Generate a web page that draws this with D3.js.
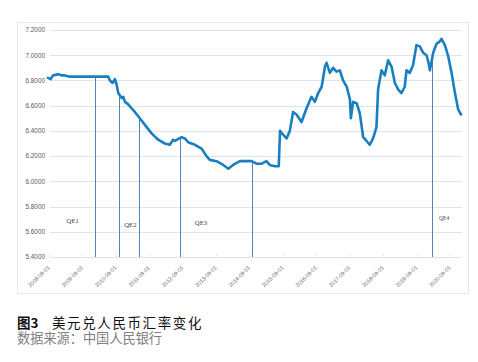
<!DOCTYPE html>
<html>
<head>
<meta charset="utf-8">
<script src="https://cdn.jsdelivr.net/npm/d3@7"></script>
<style>
  body { margin: 0; background: #fff; }
  svg { display: block; }
</style>
</head>
<body>
<svg id="chart" width="478" height="362"></svg>
<script>
// USD/CNY, values
const dates = [
  "2008-09-22","2008-10-21","2008-11-16","2009-01-13","2009-02-22","2009-03-25","2009-05-19","2009-08-19",
  "2010-02-18","2010-07-13","2010-08-01","2010-08-30","2010-09-24","2010-10-12","2010-10-31","2010-12-07",
  "2010-12-25","2011-01-12","2011-02-17","2011-03-24","2011-04-30","2011-06-23","2011-08-16","2011-10-30",
  "2012-01-10","2012-03-22","2012-05-16","2012-06-22","2012-07-10","2012-09-22","2012-10-28","2012-12-03",
  "2013-02-15","2013-04-28","2013-06-21","2013-07-28","2013-10-09","2013-12-21","2014-02-15","2014-04-08",
  "2014-06-21","2014-09-03","2014-10-28","2014-12-20","2015-02-14","2015-04-08","2015-05-13","2015-07-07",
  "2015-08-20","2015-09-03","2015-10-06","2015-11-13","2015-12-19","2016-01-24","2016-03-01","2016-04-25",
  "2016-06-19","2016-08-12","2016-09-18","2016-10-24","2016-12-01","2017-01-06","2017-01-24","2017-03-01",
  "2017-04-06","2017-05-12","2017-06-18","2017-07-23","2017-09-01","2017-10-06","2017-10-16","2017-11-10",
  "2017-12-18","2018-01-22","2018-02-28","2018-04-05","2018-05-10","2018-06-16","2018-07-23","2018-08-10",
  "2018-09-16","2018-10-22","2018-11-28","2019-01-04","2019-02-09","2019-03-16","2019-04-22","2019-05-28",
  "2019-06-16","2019-07-21","2019-08-27","2019-10-03","2019-11-09","2019-12-15","2020-01-21","2020-02-09",
  "2020-02-27","2020-04-03","2020-05-09","2020-06-15","2020-07-03","2020-08-09","2020-09-15","2020-10-21",
  "2020-11-27","2021-01-01","2021-02-01"
];
const rates = [
  6.82, 6.81, 6.84, 6.85, 6.84, 6.84, 6.83, 6.83,
  6.83, 6.83, 6.80, 6.78, 6.81, 6.77, 6.70, 6.66,
  6.67, 6.63, 6.61, 6.58, 6.55, 6.50, 6.45, 6.38,
  6.33, 6.30, 6.29, 6.33, 6.32, 6.35, 6.34, 6.31,
  6.29, 6.26, 6.20, 6.17, 6.16, 6.13, 6.10, 6.13,
  6.16, 6.16, 6.16, 6.14, 6.14, 6.16, 6.13, 6.12,
  6.12, 6.40, 6.37, 6.34, 6.40, 6.55, 6.53, 6.47,
  6.58, 6.67, 6.63, 6.70, 6.75, 6.91, 6.94, 6.86,
  6.90, 6.87, 6.88, 6.80, 6.75, 6.65, 6.50, 6.63,
  6.62, 6.54, 6.35, 6.32, 6.29, 6.34, 6.43, 6.73,
  6.88, 6.84, 6.96, 6.91, 6.78, 6.73, 6.70, 6.75,
  6.88, 6.86, 6.92, 7.08, 7.07, 7.02, 7.00, 6.95,
  6.88, 7.02, 7.09, 7.11, 7.13, 7.08, 6.99, 6.86,
  6.70, 6.57, 6.53
];

// QE policy markers
const qeDates = ["2010-02-24","2010-11-10","2011-06-15","2012-09-04","2014-11-03","2020-03-26"];
const qeLabels = [
  {text: "QE1", date: "2009-06-20", value: 5.67},
  {text: "QE2", date: "2011-03-13", value: 5.64},
  {text: "QE3", date: "2013-04-22", value: 5.65},
  {text: "QE4", date: "2020-08-01", value: 5.69}
];

const yTicks = [5.4, 5.6, 5.8, 6.0, 6.2, 6.4, 6.6, 6.8, 7.0, 7.2];
const xTickLabels = d3.range(2008, 2021).map(y => y + "-09-01");

const parse = d3.timeParse("%Y-%m-%d");
const series = dates.map((d, i) => ({date: parse(d), value: rates[i]}));

const svg = d3.select("#chart");

const x = d3.scaleTime()
  .domain([parse("2008-09-01"), parse("2020-09-01")])
  .range([46, 447]);
const y = d3.scaleLinear().domain([5.4, 7.2]).range([257, 30]);

const plotLeft = 50, plotRight = 462;

// outer frame
svg.append("rect")
  .attr("x", 17.5).attr("y", 22.5)
  .attr("width", 451).attr("height", 271)
  .attr("fill", "#fff")
  .attr("stroke", "#e3e8ee");

// gridlines
svg.append("g")
  .selectAll("line")
  .data(yTicks)
  .join("line")
  .attr("x1", plotLeft).attr("x2", plotRight)
  .attr("y1", d => Math.round(y(d)) + 0.5)
  .attr("y2", d => Math.round(y(d)) + 0.5)
  .attr("stroke", "#dbe5ef")
  .attr("stroke-width", 1);

// y labels
svg.append("g")
  .selectAll("text")
  .data(yTicks)
  .join("text")
  .attr("x", 45)
  .attr("y", d => y(d) + 2.3)
  .attr("text-anchor", "end")
  .attr("font-family", "Liberation Sans, Arial, sans-serif")
  .attr("font-size", 6.4)
  .attr("fill", "#595959")
  .text(d => d.toFixed(4));

// small ticks on bottom gridline
svg.append("g")
  .selectAll("line")
  .data(xTickLabels)
  .join("line")
  .attr("x1", d => Math.round(x(parse(d)) + 3) + 0.5)
  .attr("x2", d => Math.round(x(parse(d)) + 3) + 0.5)
  .attr("y1", 254).attr("y2", 257)
  .attr("stroke", "#e3e9f0");

// x labels
svg.append("g")
  .selectAll("text")
  .data(xTickLabels)
  .join("text")
  .attr("transform", d => `translate(${x(parse(d)) + 4},268) rotate(-45)`)
  .attr("text-anchor", "end")
  .attr("font-family", "Liberation Sans, Arial, sans-serif")
  .attr("font-size", 5.4)
  .attr("fill", "#595959")
  .text(d => d);

// value of the series at a date (linear between read points)
const bis = d3.bisector(d => d.date).left;
function valueAt(dt) {
  const i = bis(series, dt);
  if (i <= 0) return series[0].value;
  if (i >= series.length) return series[series.length - 1].value;
  const a = series[i - 1], b = series[i];
  const t = (dt - a.date) / (b.date - a.date);
  return a.value + t * (b.value - a.value);
}

// QE vertical lines
svg.append("g")
  .selectAll("line")
  .data(qeDates)
  .join("line")
  .attr("x1", d => Math.round(x(parse(d))) + 0.5)
  .attr("x2", d => Math.round(x(parse(d))) + 0.5)
  .attr("y1", d => y(valueAt(parse(d))))
  .attr("y2", y(5.4))
  .attr("stroke", "#4f84b4")
  .attr("stroke-width", 1);

// rate line
const line = d3.line()
  .x(d => x(d.date))
  .y(d => y(d.value));

svg.append("path")
  .datum(series)
  .attr("d", line)
  .attr("fill", "none")
  .attr("stroke", "#1a7fc0")
  .attr("stroke-width", 2.6)
  .attr("stroke-linejoin", "round")
  .attr("stroke-linecap", "round");

// QE labels
svg.append("g")
  .selectAll("text")
  .data(qeLabels)
  .join("text")
  .attr("x", d => x(parse(d.date)))
  .attr("y", d => y(d.value))
  .attr("text-anchor", "middle")
  .attr("font-family", "Liberation Serif, serif")
  .attr("font-size", (d, i) => i === 3 ? 5.5 : 6.8)
  .attr("fill", "#404040")
  .text(d => d.text);

// caption
svg.append("text")
  .attr("x", 17).attr("y", 327.5)
  .attr("font-family", "Noto Sans CJK SC, sans-serif")
  .attr("font-size", 13.5)
  .attr("font-weight", "bold")
  .attr("fill", "#111")
  .text("图3");

svg.append("text")
  .attr("x", 52).attr("y", 327.5)
  .attr("font-family", "Noto Sans CJK SC, sans-serif")
  .attr("font-size", 13.5)
  .attr("letter-spacing", 1.6)
  .attr("fill", "#111")
  .text("美元兑人民币汇率变化");

svg.append("text")
  .attr("x", 17).attr("y", 343)
  .attr("font-family", "Noto Sans CJK SC, sans-serif")
  .attr("font-size", 13.2)
  .attr("fill", "#808080")
  .text("数据来源：中国人民银行");
</script>
</body>
</html>
